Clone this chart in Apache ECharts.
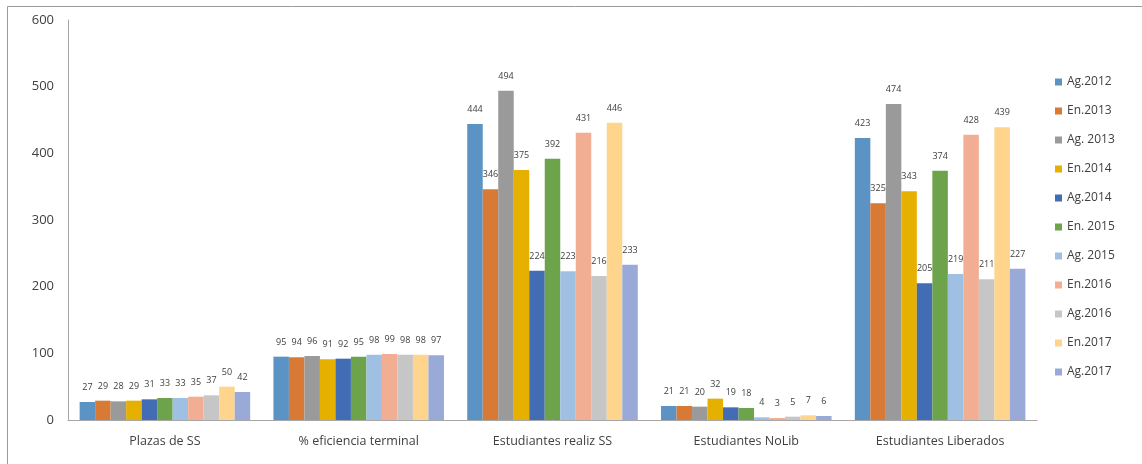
<!DOCTYPE html>
<html><head><meta charset="utf-8">
<script src="https://cdn.jsdelivr.net/npm/echarts@6/dist/echarts.min.js"></script>
<style>html,body{margin:0;padding:0;background:#fff;}#c{width:1142px;height:464px;}</style>
</head><body><div id="c"></div>
<script>
const categories = ['Plazas de SS', '% eficiencia terminal', 'Estudiantes realiz SS', 'Estudiantes NoLib', 'Estudiantes Liberados'];
const seriesNames = ['Ag.2012', 'En.2013', 'Ag. 2013', 'En.2014', 'Ag.2014', 'En. 2015', 'Ag. 2015', 'En.2016', 'Ag.2016', 'En.2017', 'Ag.2017'];
const plazas = [27, 29, 28, 29, 31, 33, 33, 35, 37, 50, 42];
const eficiencia = [95, 94, 96, 91, 92, 95, 98, 99, 98, 98, 97];
const realiz = [444, 346, 494, 375, 224, 392, 223, 431, 216, 446, 233];
const noLib = [21, 21, 20, 32, 19, 18, 4, 3, 5, 7, 6];
const liberados = [423, 325, 474, 343, 205, 374, 219, 428, 211, 439, 227];
const yTicks = [0, 100, 200, 300, 400, 500, 600];
const colors = ['#5B93C4', '#D87A35', '#9A9A9A', '#E5B000', '#426DB5', '#6DA34B', '#A0C0E3', '#F2AE93', '#C6C6C6', '#FFD48C', '#99AAD9'];

const groups = [plazas, eficiencia, realiz, noLib, liberados];
const FONT = 'Open Sans';
const series = seriesNames.map((name, i) => ({
  name, type: 'bar',
  data: groups.map(g => g[i]),
  barGap: '0%', barCategoryGap: '12%',
  itemStyle: { color: colors[i] },
  label: { show: true, position: 'top', distance: 10, fontSize: 9, color: '#404040', fontFamily: FONT }
}));

const chart = echarts.init(document.getElementById('c'));
chart.setOption({
  animation: false,
  color: colors,
  graphic: [{ type: 'rect', shape: { x: 7.5, y: 6.5, width: 1200, height: 500 }, style: { fill: 'none', stroke: '#9a9a9a', lineWidth: 1 }, silent: true }],
  grid: { left: 68, right: 105, top: 20, bottom: 44 },
  legend: {
    orient: 'vertical', left: 1050, top: 71,
    itemWidth: 7, itemHeight: 7, itemGap: 17,
    icon: 'rect',
    textStyle: { fontSize: 12, color: '#404040', fontFamily: FONT },
    data: seriesNames
  },
  xAxis: {
    type: 'category', data: categories,
    axisLine: { lineStyle: { color: '#a6a6a6' } },
    axisTick: { show: false },
    axisLabel: { fontSize: 12.5, color: '#404040', fontFamily: FONT, margin: 15 }
  },
  yAxis: {
    type: 'value', min: yTicks[0], max: yTicks[yTicks.length - 1], interval: 100,
    axisLine: { show: true, lineStyle: { color: '#a6a6a6' } },
    axisTick: { show: false },
    splitLine: { show: false },
    axisLabel: { fontSize: 13, color: '#404040', fontFamily: FONT, margin: 14 }
  },
  series
});
</script></body></html>
